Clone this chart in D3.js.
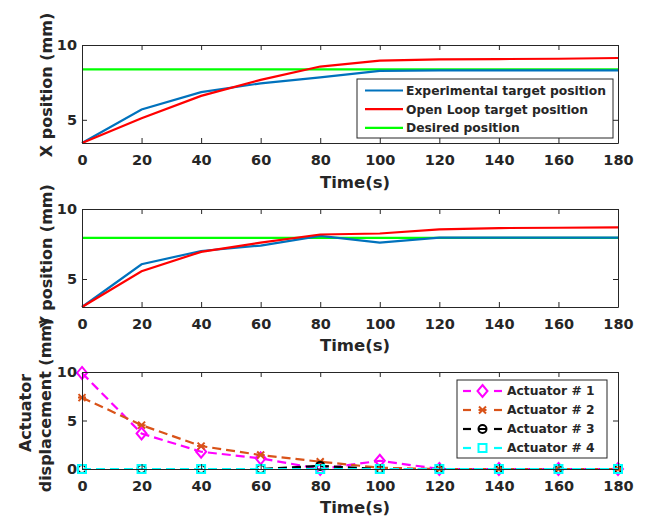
<!DOCTYPE html>
<html>
<head>
<meta charset="utf-8">
<script src="https://cdn.jsdelivr.net/npm/d3@7"></script>
<style>
  body { margin: 0; background: #fff; }
  text { font-family: "DejaVu Sans", sans-serif; font-weight: bold; fill: #262626; }
</style>
</head>
<body>
<div id="chart"></div>
<script>
// data
var time = [0, 20, 40, 60, 80, 100, 120, 140, 160, 180];

var xExperimental = [3.45, 5.69, 6.85, 7.44, 7.84, 8.27, 8.3, 8.3, 8.3, 8.3];
var xOpenLoop = [3.45, 5.11, 6.6, 7.67, 8.56, 8.95, 9.04, 9.06, 9.08, 9.13];
var xDesired = 8.37;

var yExperimental = [3.0, 6.05, 7.0, 7.39, 8.08, 7.6, 7.95, 7.95, 7.95, 7.95];
var yOpenLoop = [3.0, 5.55, 6.94, 7.6, 8.18, 8.25, 8.54, 8.64, 8.66, 8.69];
var yDesired = 7.94;

var actuator1 = [9.9, 3.66, 1.78, 1.1, 0.0, 0.85, 0, 0, 0, 0];
var actuator2 = [7.36, 4.52, 2.36, 1.44, 0.75, 0.13, 0, 0, 0, 0];
var actuator3 = [0, 0, 0, 0, 0.32, 0, 0, 0, 0, 0];
var actuator4 = [0, 0, 0, 0, 0, 0, 0, 0, 0, 0];

var xTicks = [0, 20, 40, 60, 80, 100, 120, 140, 160, 180];
var posTicks = [5, 10];
var dispTicks = [0, 5, 10];

var W = 647, H = 518;
var svg = d3.select("#chart").append("svg").attr("width", W).attr("height", H);

var x = d3.scaleLinear().domain([0, 180]).range([82, 618]);
var axisColor = "#262626";

function drawFrame(y, ticks, top, bottom) {
  var g = svg.append("g");
  var xb = d3.axisBottom(x).tickValues(xTicks).tickSizeInner(-5).tickSizeOuter(0).tickPadding(11.5);
  var xt = d3.axisTop(x).tickValues(xTicks).tickSizeInner(-5).tickSizeOuter(0).tickFormat("");
  var yl = d3.axisLeft(y).tickValues(ticks).tickSizeInner(-5).tickSizeOuter(0).tickPadding(5)
    .tickFormat(d3.format("d"));
  var yr = d3.axisRight(y).tickValues(ticks).tickSizeInner(-5).tickSizeOuter(0).tickFormat("");
  var gb = g.append("g").attr("transform", "translate(0," + bottom + ")").call(xb);
  var gt = g.append("g").attr("transform", "translate(0," + top + ")").call(xt);
  var gl = g.append("g").attr("transform", "translate(82,0)").call(yl);
  var gr = g.append("g").attr("transform", "translate(618,0)").call(yr);
  [gb, gt, gl, gr].forEach(function (a) {
    a.selectAll("path, line").attr("stroke", axisColor).attr("stroke-width", 1);
    a.selectAll("text").style("font-size", "14.5px").attr("fill", axisColor);
  });
  return g;
}

function xLabel(yPos) {
  svg.append("text").attr("x", 355).attr("y", yPos)
    .attr("text-anchor", "middle").style("font-size", "16.5px").text("Time(s)");
}

function yLabel(t, xPos, cy) {
  svg.append("text")
    .attr("transform", "translate(" + xPos + "," + cy + ") rotate(-90)")
    .attr("text-anchor", "middle").style("font-size", "16px").text(t);
}

var line = function (y) {
  return d3.line().x(function (d, i) { return x(time[i]); }).y(function (d) { return y(d); });
};

// ---------- panel 1 ----------
var y1 = d3.scaleLinear().domain([3.45, 10]).range([143, 45]);
var p1 = svg.append("g");
p1.append("path").datum(time.map(function () { return xDesired; }))
  .attr("d", line(y1)).attr("fill", "none").attr("stroke", "#00ff00").attr("stroke-width", 2.2);
p1.append("path").datum(xExperimental)
  .attr("d", line(y1)).attr("fill", "none").attr("stroke", "#0072bd").attr("stroke-width", 2.2);
p1.append("path").datum(xOpenLoop)
  .attr("d", line(y1)).attr("fill", "none").attr("stroke", "#ff0000").attr("stroke-width", 2.2);
drawFrame(y1, posTicks, 45, 143);
xLabel(188);
yLabel("X position (mm)", 52, 85);

// legend 1
var leg1 = svg.append("g");
leg1.append("rect").attr("x", 357).attr("y", 79).attr("width", 256).attr("height", 59)
  .attr("fill", "#fff").attr("stroke", axisColor).attr("stroke-width", 1);
var leg1Items = [
  { name: "Experimental target position", color: "#0072bd" },
  { name: "Open Loop target position", color: "#ff0000" },
  { name: "Desired position", color: "#00ff00" }
];
leg1Items.forEach(function (d, i) {
  var yy = 90.5 + i * 18.7;
  leg1.append("line").attr("x1", 365).attr("x2", 403).attr("y1", yy).attr("y2", yy)
    .attr("stroke", d.color).attr("stroke-width", 2.2);
  leg1.append("text").attr("x", 406).attr("y", yy).attr("dy", "0.35em")
    .style("font-size", "12.3px").attr("fill", "#000").text(d.name);
});

// ---------- panel 2 ----------
var y2 = d3.scaleLinear().domain([3, 10]).range([307, 209]);
var p2 = svg.append("g");
p2.append("path").datum(time.map(function () { return yDesired; }))
  .attr("d", line(y2)).attr("fill", "none").attr("stroke", "#00ff00").attr("stroke-width", 2.2);
p2.append("path").datum(yExperimental)
  .attr("d", line(y2)).attr("fill", "none").attr("stroke", "#0072bd").attr("stroke-width", 2.2);
p2.append("path").datum(yOpenLoop)
  .attr("d", line(y2)).attr("fill", "none").attr("stroke", "#ff0000").attr("stroke-width", 2.2);
drawFrame(y2, posTicks, 209, 307);
xLabel(351);
yLabel("Y position (mm)", 52, 256);

// ---------- panel 3 ----------
var y3 = d3.scaleLinear().domain([0, 10]).range([469, 372]);
var p3 = svg.append("g");

var actuators = [
  { name: "Actuator # 1", values: actuator1, color: "#ff00ff", marker: "diamond" },
  { name: "Actuator # 2", values: actuator2, color: "#d95319", marker: "star" },
  { name: "Actuator # 3", values: actuator3, color: "#000000", marker: "circle" },
  { name: "Actuator # 4", values: actuator4, color: "#00ffff", marker: "square" }
];

function drawMarker(g, type, cx, cy, color) {
  if (type === "diamond") {
    g.append("path").attr("d", "M" + cx + "," + (cy - 6) + "L" + (cx + 5) + "," + cy +
      "L" + cx + "," + (cy + 6) + "L" + (cx - 5) + "," + cy + "Z")
      .attr("fill", "none").attr("stroke", color).attr("stroke-width", 2);
  } else if (type === "star") {
    g.append("path").attr("d", "M" + (cx - 3.5) + "," + (cy - 3.5) + "L" + (cx + 3.5) + "," + (cy + 3.5) +
      "M" + (cx + 3.5) + "," + (cy - 3.5) + "L" + (cx - 3.5) + "," + (cy + 3.5) +
      "M" + (cx - 4) + "," + cy + "L" + (cx + 4) + "," + cy)
      .attr("fill", "none").attr("stroke", color).attr("stroke-width", 2);
  } else if (type === "circle") {
    g.append("circle").attr("cx", cx).attr("cy", cy).attr("r", 4)
      .attr("fill", "none").attr("stroke", color).attr("stroke-width", 2);
  } else {
    g.append("rect").attr("x", cx - 4).attr("y", cy - 4).attr("width", 8).attr("height", 8)
      .attr("fill", "none").attr("stroke", color).attr("stroke-width", 2);
  }
}

actuators.forEach(function (a) {
  p3.append("path").datum(a.values).attr("d", line(y3))
    .attr("fill", "none").attr("stroke", a.color).attr("stroke-width", 2.2)
    .attr("stroke-dasharray", "9,5");
  a.values.forEach(function (v, i) {
    drawMarker(p3, a.marker, x(time[i]), y3(v), a.color);
  });
});
drawFrame(y3, dispTicks, 372, 469);
xLabel(513);
yLabel("Actuator", 31, 413);
yLabel("displacement (mm)", 51, 405);

// legend 3
var leg3 = svg.append("g");
leg3.append("rect").attr("x", 457).attr("y", 380).attr("width", 150).attr("height", 78)
  .attr("fill", "#fff").attr("stroke", axisColor).attr("stroke-width", 1);
actuators.forEach(function (a, i) {
  var yy = 391 + i * 19;
  leg3.append("line").attr("x1", 463).attr("x2", 471).attr("y1", yy).attr("y2", yy)
    .attr("stroke", a.color).attr("stroke-width", 2.2);
  leg3.append("line").attr("x1", 494).attr("x2", 502).attr("y1", yy).attr("y2", yy)
    .attr("stroke", a.color).attr("stroke-width", 2.2);
  if (a.marker === "circle") {
    leg3.append("line").attr("x1", 479).attr("x2", 486).attr("y1", yy).attr("y2", yy)
      .attr("stroke", a.color).attr("stroke-width", 2);
  }
  drawMarker(leg3, a.marker, 482.5, yy, a.color);
  leg3.append("text").attr("x", 507).attr("y", yy).attr("dy", "0.35em")
    .style("font-size", "12.3px").attr("fill", "#000").text(a.name);
});
</script>
</body>
</html>
